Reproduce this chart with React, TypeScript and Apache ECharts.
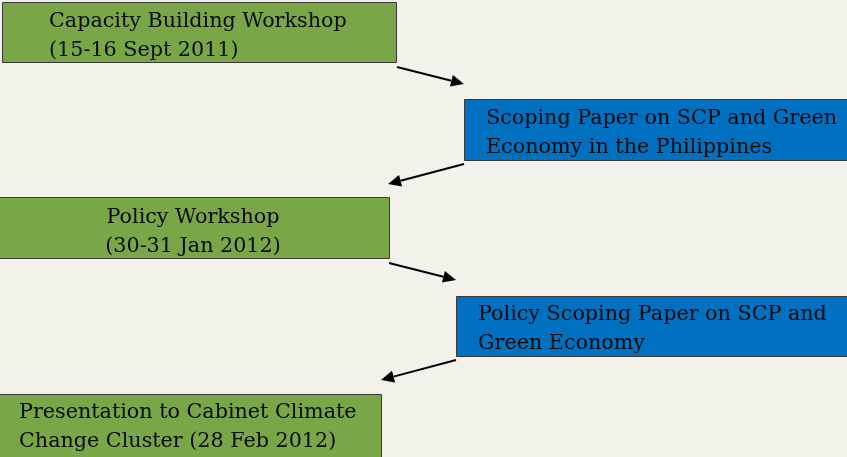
import React, { useEffect, useRef } from "react";
import * as echarts from "echarts";

// Box texts (one entry per line)
const boxLines: string[][] = [
  ["Capacity Building Workshop", "(15-16 Sept 2011)"],
  ["Scoping Paper on SCP and Green", "Economy in the Philippines"],
  ["Policy Workshop", "(30-31 Jan 2012)"],
  ["Policy Scoping Paper on SCP and", "Green Economy"],
  ["Presentation to Cabinet Climate", "Change Cluster (28 Feb 2012)"],
];
const boxKinds: string[] = ["event", "paper", "event", "paper", "event"];
// Layout: [x, y, width, height, textX, firstLineY, align]
const boxLayout: [number, number, number, number, number, number, string][] = [
  [2, 2, 394, 60, 49, 20, "left"],
  [464, 99, 390, 61, 486, 117, "left"],
  [-2, 197, 391, 61, 193, 216, "center"],
  [456, 296, 398, 60, 478, 313, "left"],
  [-2, 394, 383, 66, 19, 411, "left"],
];
// Arrows: [x1, y1, x2, y2]
const arrows: [number, number, number, number][] = [
  [397, 67, 464, 84],
  [464, 164, 388, 184],
  [389, 263, 456, 280],
  [456, 360, 381, 380],
];

const colors: Record<string, string> = { event: "#79A647", paper: "#0070C0" };
const FONT = '20.7px "DejaVu Serif"';

export default function App() {
  const ref = useRef<HTMLDivElement>(null);
  useEffect(() => {
    if (!ref.current) return;
    const chart = echarts.init(ref.current, undefined, { renderer: "svg" });
    const elements: any[] = [];
    elements.push({
      type: "rect",
      shape: { x: 0, y: 0, width: 847, height: 457 },
      style: { fill: "#F2F1EA" },
      silent: true,
    });
    boxLines.forEach((lines, i) => {
      const [x, y, w, h, tx, ty, align] = boxLayout[i];
      elements.push({
        type: "rect",
        shape: { x: x + 0.5, y: y + 0.5, width: w, height: h },
        style: { fill: colors[boxKinds[i]], stroke: "#3A3A3A", lineWidth: 1 },
      });
      const lh = 28.5;
      lines.forEach((t, j) => {
        elements.push({
          type: "text",
          x: tx,
          y: ty + j * lh,
          style: {
            text: t,
            font: FONT,
            fill: "#0A0A0A",
            align: align,
            verticalAlign: "middle",
          },
        });
      });
    });
    arrows.forEach(([x1, y1, x2, y2]) => {
      const dx = x2 - x1;
      const dy = y2 - y1;
      const len = Math.sqrt(dx * dx + dy * dy);
      const ux = dx / len;
      const uy = dy / len;
      const hl = 13;
      const hw = 6;
      const bx = x2 - ux * hl;
      const by = y2 - uy * hl;
      elements.push({
        type: "line",
        shape: { x1, y1, x2: bx, y2: by },
        style: { stroke: "#000", lineWidth: 2 },
      });
      elements.push({
        type: "polygon",
        shape: {
          points: [
            [x2, y2],
            [bx - uy * hw, by + ux * hw],
            [bx + uy * hw, by - ux * hw],
          ],
        },
        style: { fill: "#000" },
      });
    });
    chart.setOption({ animation: false, graphic: { elements } });
    return () => chart.dispose();
  }, []);
  return (
    <div
      ref={ref}
      style={{ position: "fixed", left: 0, top: 0, width: 847, height: 457 }}
    />
  );
}
